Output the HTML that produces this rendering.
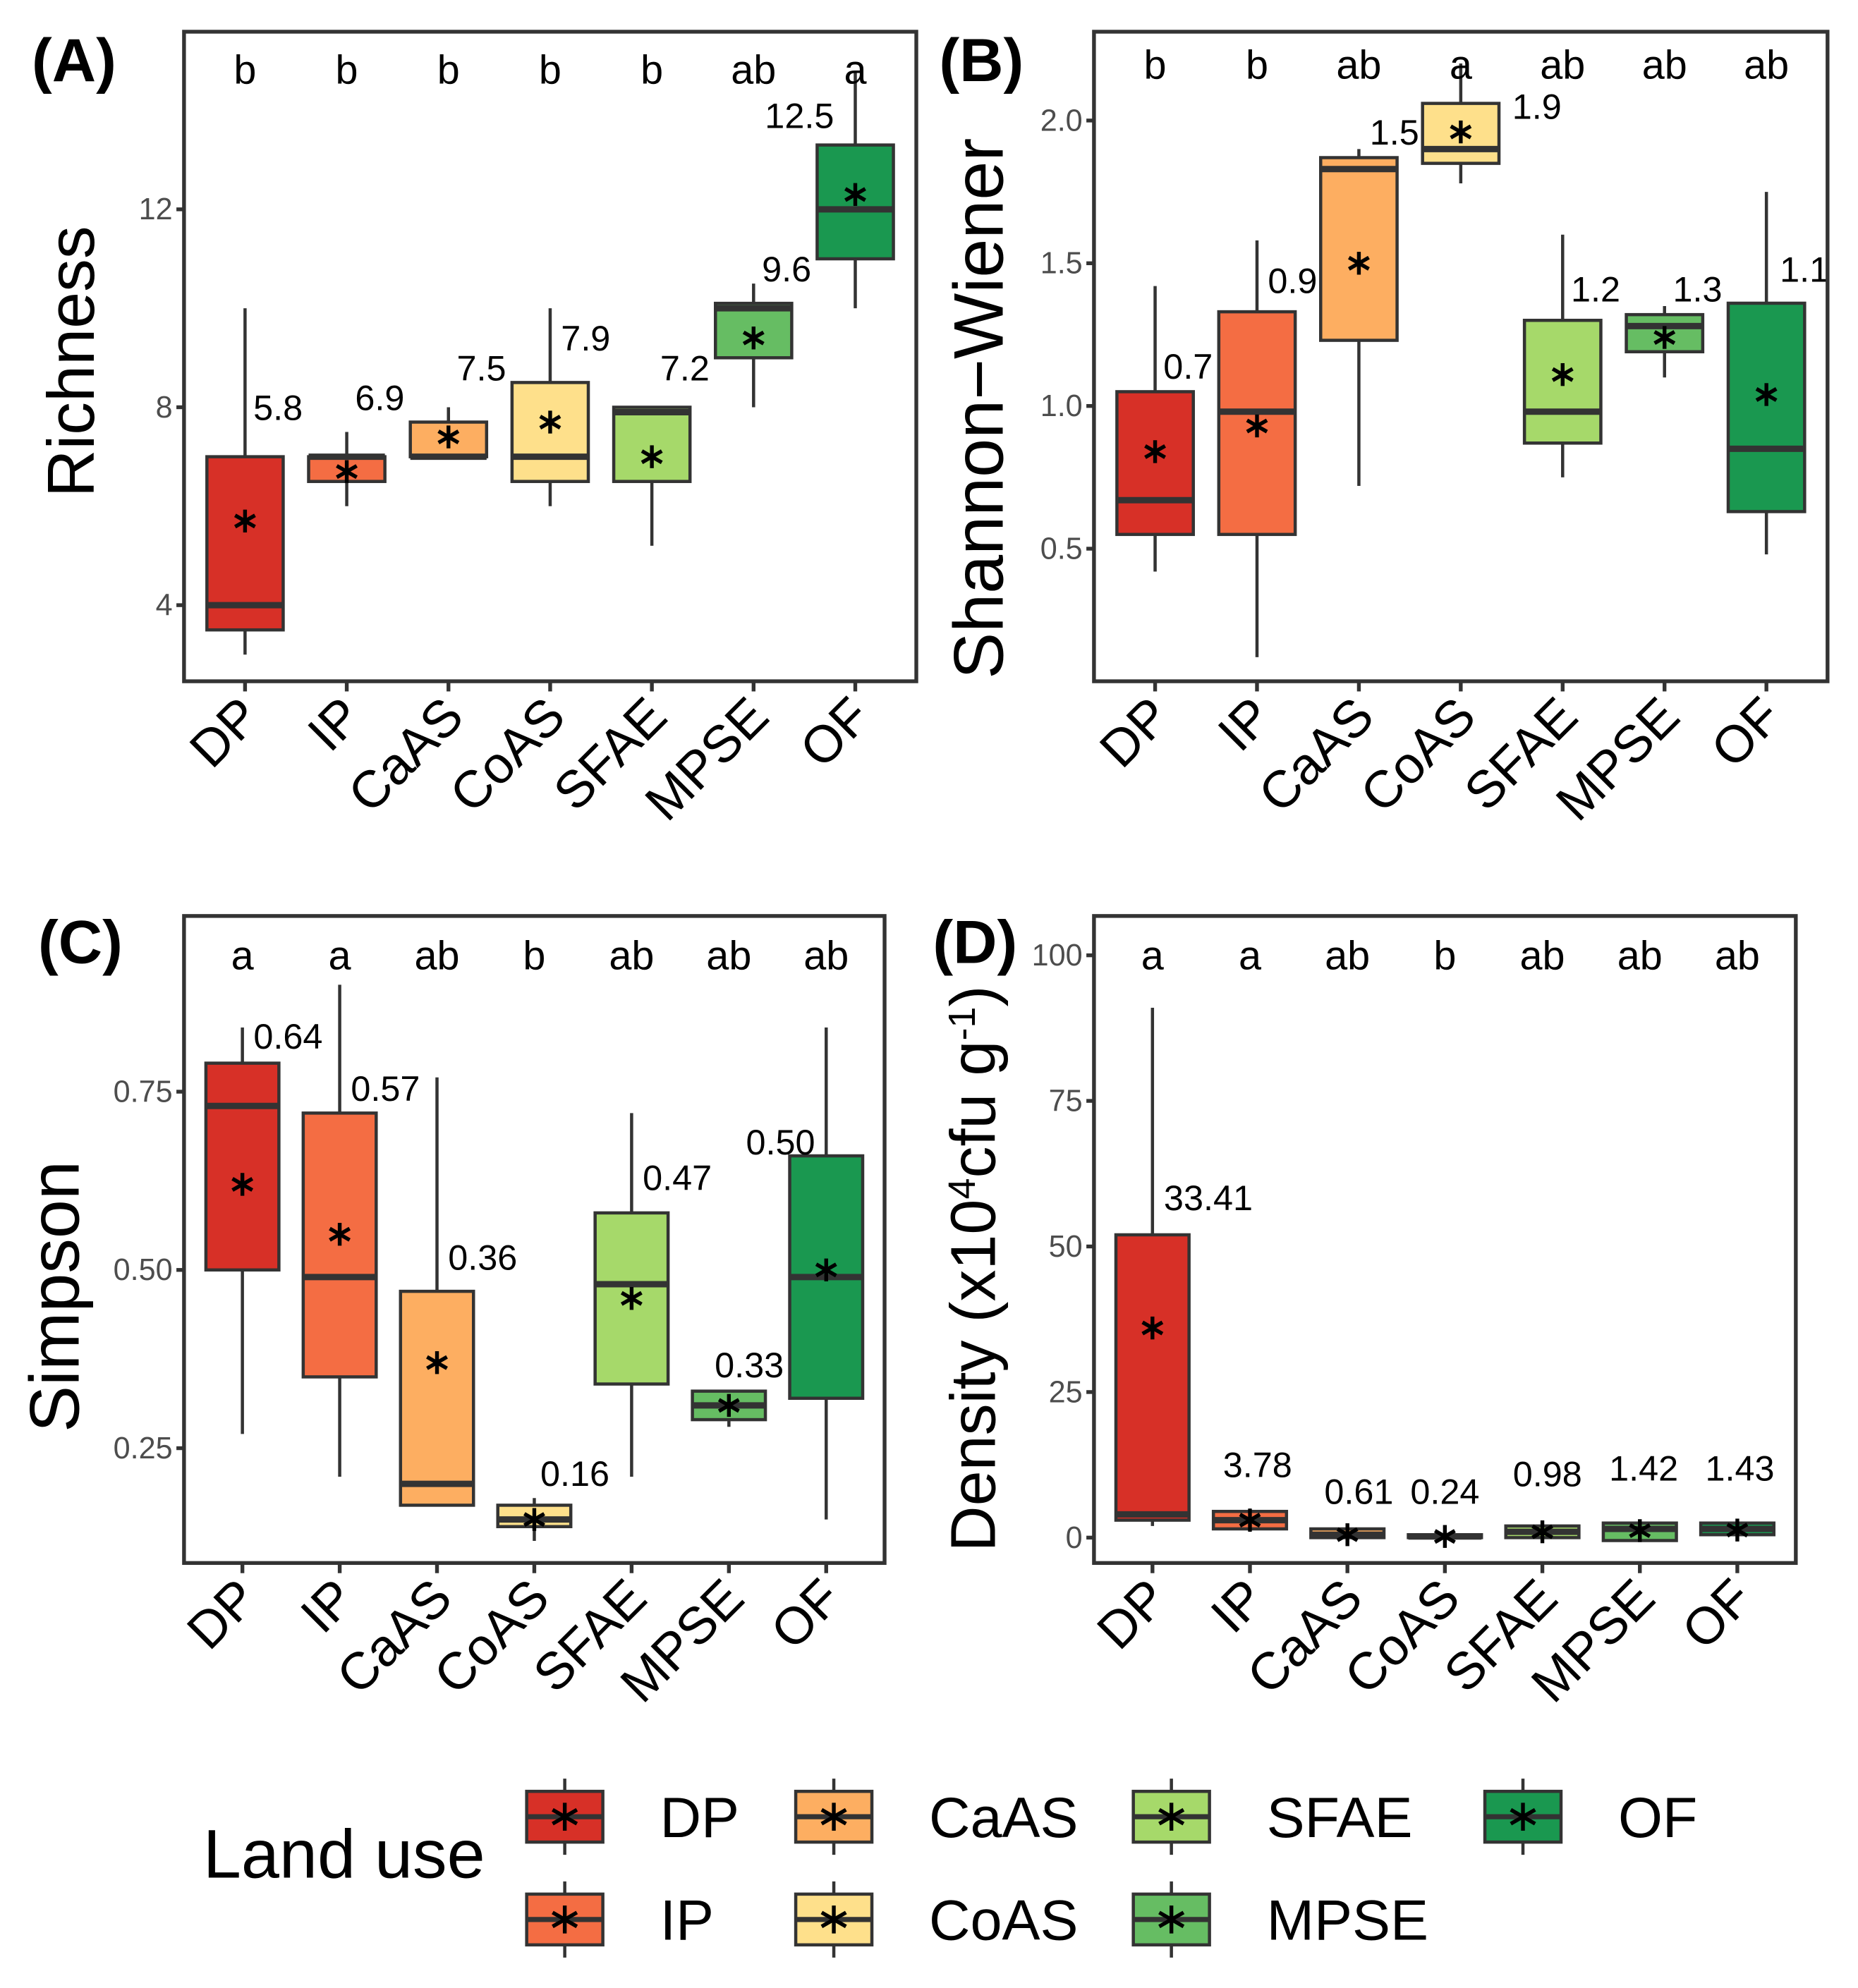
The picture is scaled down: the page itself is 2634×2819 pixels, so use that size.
<!DOCTYPE html>
<html><head><meta charset="utf-8"><style>
html,body{margin:0;padding:0;background:#fff;}
svg{display:block;font-family:"Liberation Sans",Arial,sans-serif;}
</style></head><body>
<svg id="fig" width="2634" height="2819" viewBox="0 0 1464 1567" preserveAspectRatio="none" xmlns="http://www.w3.org/2000/svg"></svg>
<script>
const categories = ["DP","IP","CaAS","CoAS","SFAE","MPSE","OF"];
const colors = ["#d73027","#f46d43","#fdae61","#fee08b","#a6d96a","#66bd63","#1a9850"];

// Panel A: Richness
const aWhiskLo = [3,6,7,6,5.2,8,10];
const aQ1 = [3.5,6.5,7,6.5,6.5,9,11];
const aMed = [4,7,7,7,7.9,10,12];
const aQ3 = [7,7,7.7,8.5,8,10.1,13.3];
const aWhiskHi = [10,7.5,8,10,8,10.5,14.8];
const aMean = [5.7,6.7,7.4,7.7,7.0,9.4,12.3];
const aLabels = ["5.8","6.9","7.5","7.9","7.2","9.6","12.5"];
const aLabelY = [8.0,8.2,8.8,9.4,8.8,10.8,13.9];
const aLetters = ["b","b","b","b","b","ab","a"];
const aTicks = [4,8,12];
const aTickLabels = ["4","8","12"];

// Panel B: Shannon-Wiener
const bWhiskLo = [0.42,0.12,0.72,1.78,0.75,1.1,0.48];
const bQ1 = [0.55,0.55,1.23,1.85,0.87,1.19,0.63];
const bMed = [0.67,0.98,1.83,1.9,0.98,1.28,0.85];
const bQ3 = [1.05,1.33,1.87,2.06,1.3,1.32,1.36];
const bWhiskHi = [1.42,1.58,1.9,2.2,1.6,1.35,1.75];
const bMean = [0.84,0.93,1.5,1.96,1.11,1.24,1.04];
const bLabels = ["0.7","0.9","1.5","1.9","1.2","1.3","1.1"];
const bLabelY = [1.14,1.44,1.96,2.05,1.41,1.41,1.48];
const bLetters = ["b","b","ab","a","ab","ab","ab"];
const bTicks = [0.5,1.0,1.5,2.0];
const bTickLabels = ["0.5","1.0","1.5","2.0"];

// Panel C: Simpson
const cWhiskLo = [0.27,0.21,0.17,0.12,0.21,0.28,0.15];
const cQ1 = [0.50,0.35,0.17,0.14,0.34,0.29,0.32];
const cMed = [0.73,0.49,0.20,0.15,0.48,0.31,0.49];
const cQ3 = [0.79,0.72,0.47,0.17,0.58,0.33,0.66];
const cWhiskHi = [0.84,0.90,0.77,0.18,0.72,0.33,0.84];
const cMean = [0.62,0.55,0.37,0.15,0.46,0.31,0.50];
const cLabels = ["0.64","0.57","0.36","0.16","0.47","0.33","0.50"];
const cLabelY = [0.828,0.755,0.518,0.215,0.63,0.367,0.68];
const cLetters = ["a","a","ab","b","ab","ab","ab"];
const cTicks = [0.25,0.5,0.75];
const cTickLabels = ["0.25","0.50","0.75"];

// Panel D: Density
const dWhiskLo = [2,1,0,0,0,0,0];
const dQ1 = [3,1.5,0,0,0,-0.5,0.5];
const dMed = [4,3,0.5,0.2,1,1.5,1.5];
const dQ3 = [52,4.5,1.5,0.5,2,2.5,2.5];
const dWhiskHi = [91,5,1.5,0.5,2,2.5,2.5];
const dMean = [36,3,0.5,0.2,1,1.2,1.3];
const dLabels = ["33.41","3.78","0.61","0.24","0.98","1.42","1.43"];
const dLabelY = [58.4,12.6,8,8,11,12,12];
const dLetters = ["a","a","ab","b","ab","ab","ab"];
const dTicks = [0,25,50,75,100];
const dTickLabels = ["0","25","50","75","100"];

const NS="http://www.w3.org/2000/svg";
const svg=document.getElementById('fig');
function mk(tag,attrs,parent,text){const e=document.createElementNS(NS,tag);for(const k in attrs)e.setAttribute(k,attrs[k]);if(text!==undefined)e.textContent=text;(parent||svg).appendChild(e);return e;}

function panel(p){
  const g=mk('g',{});
  
  
  const y=v=>p.y0px-(v-p.v0)*p.ppu;
  const unit=(p.x1-p.x0)/7.2;
  const xc=i=>p.x0+unit*(0.6+i);
  const hw=unit*0.375;
  p.ticks.forEach((t,i)=>{
    const tk=mk('line',{x1:p.x0-6,x2:p.x0,y1:y(t),y2:y(t),stroke:'#333','stroke-width':3},g);
    
    
    const tl=mk('text',{x:p.x0-9,y:y(t)+8,'text-anchor':'end','font-size':24,fill:'#4d4d4d'},g,p.tickLabels[i]);
    
    
  });
  categories.forEach((c,i)=>{
    const x=xc(i);
    const tk=mk('line',{x1:x,x2:x,y1:p.y1,y2:p.y1+8,stroke:'#333','stroke-width':3},g);
    
    
    const tl=mk('text',{x:x+14,y:p.y1+30,'text-anchor':'end','font-size':41,fill:'#000',transform:`rotate(-45 ${x+14} ${p.y1+30})`},g,c);
    
    
    const wh=mk('line',{x1:x,x2:x,y1:y(p.lo[i]),y2:y(p.hi[i]),stroke:'#333','stroke-width':2.5},g);
    
    
    const bx=mk('rect',{x:x-hw,y:y(p.q3[i]),width:hw*2,height:Math.max(2,y(p.q1[i])-y(p.q3[i])),fill:colors[i],stroke:'#333','stroke-width':2.5},g);
    
    
    const md=mk('line',{x1:x-hw,x2:x+hw,y1:y(p.med[i]),y2:y(p.med[i]),stroke:'#333','stroke-width':5},g);
    
    
    const my=y(p.mean[i]);const s=9;
    const st=mk('g',{stroke:'#000','stroke-width':3},g);
    
    
    mk('line',{x1:x,x2:x,y1:my-s,y2:my+s},st);
    mk('line',{x1:x-s*0.87,x2:x+s*0.87,y1:my-s/2,y2:my+s/2},st);
    mk('line',{x1:x-s*0.87,x2:x+s*0.87,y1:my+s/2,y2:my-s/2},st);
    const vl=mk('text',{x:x+p.ldx[i],y:y(p.labelY[i])+10,'text-anchor':'middle','font-size':28,fill:'#000'},g,p.labels[i]);
    
    
    const lt=mk('text',{x:x,y:p.letterY,'text-anchor':'middle','font-size':32,fill:'#000'},g,p.letters[i]);
    
    
  });
  const fr=mk('rect',{x:p.x0,y:p.y0,width:p.x1-p.x0,height:p.y1-p.y0,fill:'none',stroke:'#333','stroke-width':3},g);
  
  
  const pl=mk('text',{x:p.tagX,y:p.tagY,'font-size':48,'font-weight':'bold',fill:'#000'},g,p.tag);
  
  
  const yt=mk('text',{x:p.titleX,y:p.titleY,'text-anchor':'middle','font-size':p.titleSize,fill:'#000',transform:`rotate(-90 ${p.titleX} ${p.titleY})`},g);
  yt.innerHTML=p.title;
  
  
}

panel({name:'panel-a-richness',x0:145,x1:722,y0:25,y1:537,v0:4,y0px:477,ppu:39,lo:aWhiskLo,q1:aQ1,med:aMed,q3:aQ3,hi:aWhiskHi,mean:aMean,labels:aLabels,labelY:aLabelY,letters:aLetters,ticks:aTicks,tickLabels:aTickLabels,letterY:66,ldx:[26,26,26,28,26,26,-44],tag:'(A)',tagX:25,tagY:64,title:'Richness',titleX:74,titleY:285,titleSize:52});
panel({name:'panel-b-shannon',x0:862,x1:1440,y0:25,y1:537,v0:1.0,y0px:320,ppu:225,lo:bWhiskLo,q1:bQ1,med:bMed,q3:bQ3,hi:bWhiskHi,mean:bMean,labels:bLabels,labelY:bLabelY,letters:bLetters,ticks:bTicks,tickLabels:bTickLabels,letterY:62,ldx:[26,28,28,60,26,26,30],tag:'(B)',tagX:740,tagY:64,title:'Shannon−Wiener',titleX:790,titleY:322,titleSize:55});
panel({name:'panel-c-simpson',x0:145,x1:697,y0:722,y1:1232,v0:0.5,y0px:1001,ppu:562,lo:cWhiskLo,q1:cQ1,med:cMed,q3:cQ3,hi:cWhiskHi,mean:cMean,labels:cLabels,labelY:cLabelY,letters:cLetters,ticks:cTicks,tickLabels:cTickLabels,letterY:764,ldx:[36,36,36,32,36,16,-36],tag:'(C)',tagX:30,tagY:759,title:'Simpson',titleX:62,titleY:1022,titleSize:55});
panel({name:'panel-d-density',x0:862,x1:1415,y0:722,y1:1232,v0:0,y0px:1212,ppu:4.59,lo:dWhiskLo,q1:dQ1,med:dMed,q3:dQ3,hi:dWhiskHi,mean:dMean,labels:dLabels,labelY:dLabelY,letters:dLetters,ticks:dTicks,tickLabels:dTickLabels,letterY:764,ldx:[44,6,9,0,4,3,2],tag:'(D)',tagX:735,tagY:759,title:'Density (x10<tspan dy="-16" font-size="30">4</tspan><tspan dy="16">cfu g</tspan><tspan dy="-16" font-size="30">-1</tspan><tspan dy="16">)</tspan>',titleX:784,titleY:1000,titleSize:50});

// Legend
const lg=mk('g',{});


const lt=mk('text',{x:160,y:1480,'font-size':54,fill:'#000'},lg,'Land use');


const colX=[415,627,893,1170];
const rowY=[1432,1513];
categories.forEach((c,i)=>{
  const col=Math.floor(i/2),row=i%2;
  const x=colX[col],yc=rowY[row];
  const e=mk('g',{},lg);
  
  
  mk('line',{x1:x+30,x2:x+30,y1:yc-30,y2:yc+30,stroke:'#333','stroke-width':2.5},e);
  mk('rect',{x:x,y:yc-20,width:60,height:40,fill:colors[i],stroke:'#333','stroke-width':2.5},e);
  mk('line',{x1:x,x2:x+60,y1:yc,y2:yc,stroke:'#333','stroke-width':4},e);
  const s=11;
  const st=mk('g',{stroke:'#000','stroke-width':3},e);
  mk('line',{x1:x+30,x2:x+30,y1:yc-s,y2:yc+s},st);
  mk('line',{x1:x+30-s*0.87,x2:x+30+s*0.87,y1:yc-s/2,y2:yc+s/2},st);
  mk('line',{x1:x+30-s*0.87,x2:x+30+s*0.87,y1:yc+s/2,y2:yc-s/2},st);
  mk('text',{x:x+105,y:yc+16,'font-size':45,fill:'#000'},e,c);
});
</script>
</body></html>
